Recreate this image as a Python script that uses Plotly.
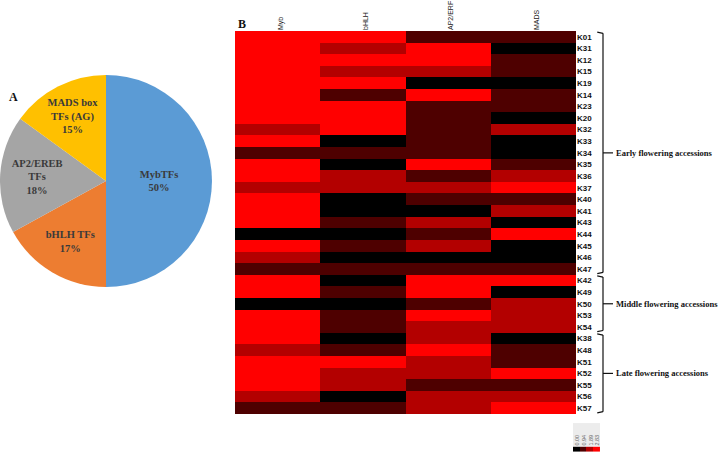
import plotly.graph_objects as go

# Pie data
pie_labels = ["MybTFs", "bHLH TFs", "AP2/EREB<br>TFs", "MADS box<br>TFs (AG)"]
pie_values = [50, 17, 18, 15]
pie_colors = ["#5B9BD5", "#ED7D31", "#A5A5A5", "#FFC000"]

# Heatmap data
columns = ["Myb", "bHLH", "AP2/ERF", "MADS"]
accessions = ["K01", "K31", "K12", "K15", "K19", "K14", "K23", "K20", "K32", "K33",
              "K34", "K35", "K36", "K37", "K40", "K41", "K43", "K44", "K45", "K46",
              "K47", "K42", "K49", "K50", "K53", "K54", "K38", "K48", "K51", "K52",
              "K55", "K56", "K57"]
R, D, M, B = 2.83, 0.94, 1.89, 0.00
myb =  [R, R, R, R, R, R, R, R, M, R, D, R, R, M, R, R, R, B, R, M, D, R, R, B, R, R, R, M, R, R, R, M, D]
bhlh = [R, M, R, M, R, D, R, R, R, B, D, B, M, M, B, B, D, B, D, B, D, B, D, B, D, D, B, D, R, M, M, B, D]
ap2 =  [D, R, R, M, B, R, D, D, D, D, D, R, D, M, D, B, M, D, M, B, D, R, R, D, R, M, M, R, M, M, D, M, M]
mads = [D, B, D, D, B, D, D, B, M, B, B, D, M, R, D, M, B, R, B, B, D, R, B, M, M, M, B, D, D, R, D, M, R]
scale_ticks = [0.00, 0.94, 1.89, 2.83]
scale_labels = ["0.00", "0.94", "1.89", "2.83"]

groups = [("Early flowering accessions", "K01", "K47"),
          ("Middle flowering accessions", "K42", "K54"),
          ("Late flowering accessions", "K38", "K57")]

z = [[myb[i], bhlh[i], ap2[i], mads[i]] for i in range(len(accessions))]
yidx = list(range(len(accessions)))

fig = go.Figure()

fig.add_trace(go.Pie(
    labels=pie_labels, values=pie_values, sort=False, direction="clockwise",
    marker=dict(colors=pie_colors),
    texttemplate="<b>%{label}<br>%{value}%</b>", textposition="inside",
    insidetextorientation="horizontal",
    textfont=dict(family="Liberation Serif", size=10.5, color="#3a3a3a"),
    domain=dict(x=[0.0, 0.2944], y=[0.365, 0.834]),
    showlegend=False, hoverinfo="label+percent",
))

cs = [[0, "#000000"], [0.25, "#000000"], [0.25, "#4e0000"], [0.5, "#4e0000"],
      [0.5, "#b30000"], [0.75, "#b30000"], [0.75, "#ff0000"], [1, "#ff0000"]]

fig.add_trace(go.Heatmap(
    z=z, x=columns, y=yidx, colorscale=cs, zmin=0, zmax=2.83,
    showscale=False, xaxis="x", yaxis="y",
))

# small colour-key strip
fig.add_trace(go.Heatmap(
    z=[scale_ticks], x=scale_labels, y=[0], colorscale=cs, zmin=0, zmax=2.83,
    showscale=False, xaxis="x2", yaxis="y2", hoverinfo="z",
))

fig.update_layout(
    xaxis=dict(domain=[0.3264, 0.8], side="top", tickangle=-90, automargin=False,
               tickmode="linear", dtick=1, ticklabelshift=3,
               tickfont=dict(family="Liberation Sans", size=7, color="#222"),
               showgrid=False, zeroline=False, ticks="", anchor="y"),
    yaxis=dict(domain=[0.084, 0.9314], side="right", autorange="reversed", automargin=False,
               tickvals=yidx, ticktext=accessions,
               tickfont=dict(family="Liberation Sans", size=8, color="#111", weight="bold"),
               showgrid=False, zeroline=False, ticks="", anchor="x"),
    xaxis2=dict(domain=[0.7958, 0.8333], side="top", tickangle=-90, automargin=False,
                tickmode="linear", dtick=1, ticklabelshift=1,
                tickfont=dict(family="Liberation Sans", size=5.5, color="#666"),
                showgrid=False, zeroline=False, ticks="", anchor="y2"),
    yaxis2=dict(domain=[0.0, 0.012], showticklabels=False, automargin=False,
                showgrid=False, zeroline=False, ticks="", anchor="x2"),
)

shapes = [dict(type="rect", xref="paper", yref="paper", x0=0.7958, x1=0.8333,
               y0=0.012, y1=0.064, fillcolor="#ececec", line=dict(width=0), layer="below")]
annotations = []
for name, a, b in groups:
    i0 = accessions.index(a) - 0.3
    i1 = accessions.index(b) + 0.3
    mid = (i0 + i1) / 2
    xv = 0.8375
    line = dict(color="#111", width=1.2)
    shapes.append(dict(type="line", xref="paper", yref="y", x0=xv - 0.008, x1=xv, y0=i0 - 0.1, y1=i0, line=line))
    shapes.append(dict(type="line", xref="paper", yref="y", x0=xv, x1=xv, y0=i0, y1=i1, line=line))
    shapes.append(dict(type="line", xref="paper", yref="y", x0=xv, x1=xv - 0.008, y0=i1, y1=i1 + 0.1, line=line))
    shapes.append(dict(type="line", xref="paper", yref="y", x0=xv, x1=xv + 0.0139, y0=mid, y1=mid, line=line))
    annotations.append(dict(text="<b>" + name + "</b>", xref="paper", yref="y", x=0.854, y=mid,
                            xanchor="left", yanchor="middle", showarrow=False, borderpad=0,
                            font=dict(family="Liberation Serif", size=8.5, color="#111")))

annotations.append(dict(text="<b>A</b>", xref="paper", yref="paper", x=0.01, y=1 - 97 / 452,
                        xanchor="left", yanchor="middle", showarrow=False,
                        font=dict(family="Liberation Serif", size=12, color="#111")))
annotations.append(dict(text="<b>B</b>", xref="paper", yref="paper", x=0.328, y=1 - 24 / 452,
                        xanchor="left", yanchor="middle", showarrow=False,
                        font=dict(family="Liberation Serif", size=12, color="#111")))

fig.update_layout(width=720, height=452, margin=dict(l=0, r=0, t=0, b=0),
                  paper_bgcolor="white", plot_bgcolor="rgba(0,0,0,0)",
                  shapes=shapes, annotations=annotations)

fig.write_html("out.html", config={"displayModeBar": False},
               post_script="document.body.style.margin='0px';document.body.style.overflow='hidden';")
